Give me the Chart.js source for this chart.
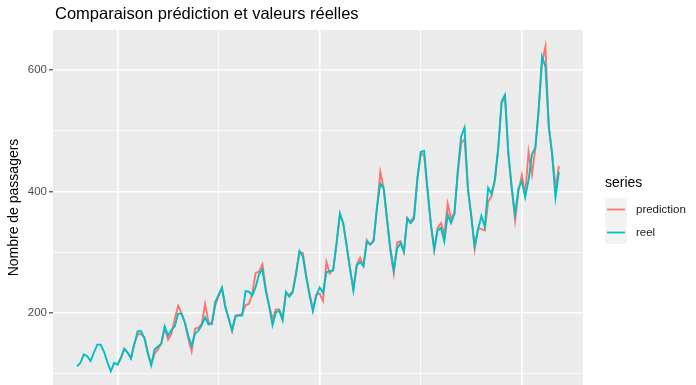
<!DOCTYPE html>
<html>
<head>
<meta charset="utf-8">
<script src="https://cdn.jsdelivr.net/npm/chart.js@4.4.0/dist/chart.umd.min.js"></script>
<style>
html,body{margin:0;padding:0;background:#fff;overflow:hidden;}
canvas{display:block;}
</style>
</head>
<body>
<canvas id="c" width="696" height="385"></canvas>
<script>
// ---- data ----
const startYear = 1949;           // first month of "reel"
const predictionStartYear = 1950; // first month of "prediction"
const reel = [
  112,118,132,129,121,135,148,148,136,119,104,118,
  115,126,141,135,125,149,170,170,158,133,114,140,
  145,150,178,163,172,178,199,199,184,162,146,166,
  171,180,193,181,183,218,230,242,209,191,172,194,
  196,196,236,235,229,243,264,272,237,211,180,201,
  204,188,235,227,234,264,302,293,259,229,203,229,
  242,233,267,269,270,315,364,347,312,274,237,278,
  284,277,317,313,318,374,413,405,355,306,271,306,
  315,301,356,348,355,422,465,467,404,347,305,336,
  340,318,362,348,363,435,491,505,404,359,310,337,
  360,342,406,396,420,472,548,559,463,407,362,405,
  417,391,419,461,472,535,622,606,508,461,390,432
];
const prediction = [
  115,126,141,135,127,150,165,165,160,135,116,133,
  140,150,176,156,166,190,212,200,184,158,137,174,
  176,182,215,185,182,212,228,240,212,190,170,196,
  197,198,213,215,232,266,268,280,240,212,190,206,
  206,192,232,230,236,268,300,299,262,232,206,230,
  232,220,284,265,272,312,362,348,310,272,240,280,
  291,278,320,312,320,372,432,405,352,300,265,316,
  318,300,356,350,360,420,462,460,402,345,303,340,
  348,330,380,355,365,430,480,486,405,360,305,340,
  338,336,383,392,418,470,545,556,462,405,352,400,
  427,395,465,428,470,535,612,638,505,462,405,442
];
const seriesNames = ['prediction', 'reel'];
const seriesColors = ['#F8766D', '#00BFC4'];
const yMajorTicks = [200, 400, 600];
const yMinorTicks = [100, 300, 500];
const xMajorTicks = [1950, 1955, 1960];
const xMinorTicks = [1952.5, 1957.5];

const toPoints = (arr, y0) => arr.map((v, i) => ({x: y0 + i / 12, y: v}));

const FONT = "'Liberation Sans', Arial, sans-serif";

const decor = {
  id: 'decor',
  beforeDraw(chart) {
    const {ctx, chartArea: a} = chart;
    ctx.save();
    ctx.fillStyle = '#EBEBEB';
    ctx.fillRect(a.left, a.top, a.right - a.left, a.bottom - a.top);
    ctx.restore();
  },
  afterDraw(chart) {
    const {ctx} = chart;
    ctx.save();
    // title
    ctx.fillStyle = '#000';
    ctx.font = '16.5px ' + FONT;
    ctx.textBaseline = 'alphabetic';
    ctx.textAlign = 'left';
    ctx.fillText('Comparaison prédiction et valeurs réelles', 55, 18.5);
    // legend
    ctx.font = '14px ' + FONT;
    ctx.textBaseline = 'middle';
    ctx.fillText('series', 605, 183);
    ctx.font = '11.5px ' + FONT;
    seriesNames.forEach((name, k) => {
      const top = 198 + k * 23;
      ctx.fillStyle = '#F2F2F2';
      ctx.fillRect(605, top, 22, 23);
      ctx.strokeStyle = seriesColors[k];
      ctx.lineWidth = 1.8;
      ctx.beginPath();
      ctx.moveTo(607, top + 11.5);
      ctx.lineTo(625, top + 11.5);
      ctx.stroke();
      ctx.fillStyle = '#1A1A1A';
      ctx.fillText(name, 636, top + 11.5);
    });
    ctx.restore();
  }
};

new Chart(document.getElementById('c'), {
  type: 'line',
  data: {
    datasets: [
      {label: seriesNames[1], data: toPoints(reel, startYear), borderColor: seriesColors[1], borderWidth: 1.9, pointRadius: 0, fill: false, tension: 0},
      {label: seriesNames[0], data: toPoints(prediction, predictionStartYear), borderColor: seriesColors[0], borderWidth: 1.9, pointRadius: 0, fill: false, tension: 0}
    ]
  },
  options: {
    responsive: false,
    animation: false,
    devicePixelRatio: 1,
    layout: {padding: {top: 30, right: 113, bottom: 0, left: 0}},
    plugins: {legend: {display: false}, title: {display: false}, tooltip: {enabled: false}},
    scales: {
      x: {
        type: 'linear',
        min: 1948.404, max: 1961.513,
        afterBuildTicks: s => { s.ticks = [...xMinorTicks, ...xMajorTicks].sort((a,b)=>a-b).map(v => ({value: v})); },
        afterFit: s => { s.height = 0; s.paddingLeft = 0; s.paddingRight = 0; },
        ticks: {display: false},
        border: {display: false},
        grid: {
          drawTicks: false,
          color: '#FFFFFF',
          lineWidth: c => xMajorTicks.includes(c.tick.value) ? 1.6 : 0.8
        }
      },
      y: {
        type: 'linear',
        min: 81.5, max: 665.8,
        afterBuildTicks: s => { s.ticks = [...yMinorTicks, ...yMajorTicks].sort((a,b)=>a-b).map(v => ({value: v})); },
        afterFit: s => { s.width = 53; s.paddingTop = 0; s.paddingBottom = 0; },
        border: {display: false},
        grid: {
          color: '#FFFFFF',
          lineWidth: c => yMajorTicks.includes(c.tick.value) ? 1.6 : 0.8,
          tickColor: c => yMajorTicks.includes(c.tick.value) ? '#333333' : 'rgba(0,0,0,0)',
          tickLength: 4,
          tickWidth: 1.1
        },
        ticks: {
          padding: 2,
          color: '#4D4D4D',
          font: {family: FONT, size: 11.5},
          callback: v => yMajorTicks.includes(v) ? String(v) : ''
        },
        title: {
          display: true,
          text: 'Nombre de passagers',
          color: '#000',
          font: {family: FONT, size: 14},
          padding: {top: 5.6, bottom: 0}
        }
      }
    }
  },
  plugins: [decor]
});
</script>
</body>
</html>
